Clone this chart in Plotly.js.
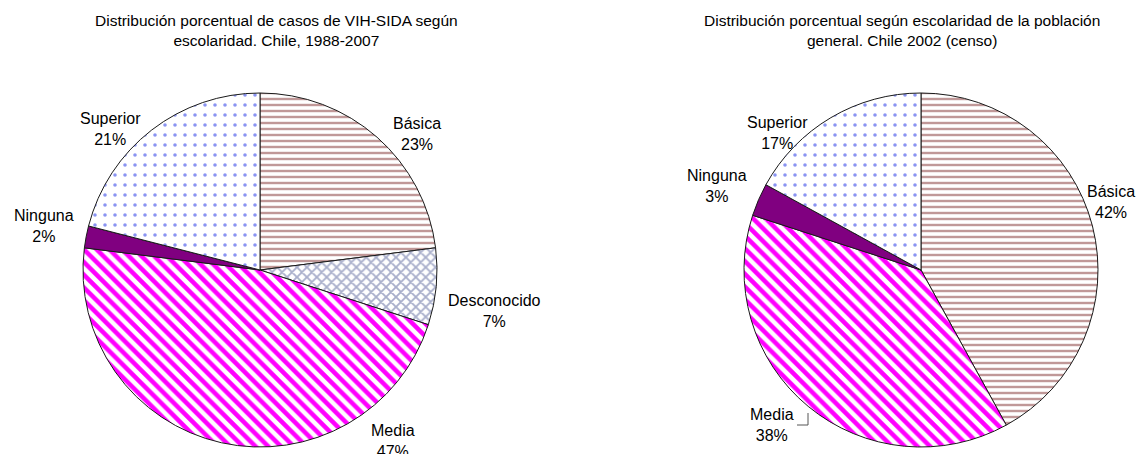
<!DOCTYPE html>
<html>
<head>
<meta charset="utf-8">
<script src="https://cdn.plot.ly/plotly-3.0.1.min.js"></script>
<style>
html,body{margin:0;padding:0;background:#fff;}
#chart{width:1139px;height:454px;}
</style>
</head>
<body>
<div id="chart"></div>
<script>
// ---- Data ----
const leftTitle = 'Distribución porcentual de casos de VIH-SIDA según<br>escolaridad. Chile, 1988-2007';
const leftLabels = ['Básica', 'Desconocido', 'Media', 'Ninguna', 'Superior'];
const leftValues = [23, 7, 47, 2, 21];

const rightTitle = 'Distribución porcentual según escolaridad de la población<br>general. Chile 2002 (censo)';
const rightLabels = ['Básica', 'Media', 'Ninguna', 'Superior'];
const rightValues = [42, 38, 3, 17];

// ---- Styles per category ----
const styles = {
  'Básica':      {shape: '-',  fg: '#c09898', bg: '#ffffff', size: 6,  sol: 0.4,  color: '#ffffff'},
  'Desconocido': {shape: 'x',  fg: '#a8aecb', bg: '#ffffff', size: 7,  sol: 0.45, color: '#ffffff'},
  'Media':       {shape: '\\', fg: '#ff00ff', bg: '#ffffff', size: 9,  sol: 0.5,  color: '#ffffff'},
  'Ninguna':     {shape: '',   fg: '#800080', bg: '#800080', size: 8,  sol: 0.3,  color: '#800080'},
  'Superior':    {shape: '.',  fg: '#8a94f2', bg: '#ffffff', size: 10, sol: 0.1,  color: '#ffffff'}
};

const W = 1139, H = 454;
const px = v => v / W;
const py = v => 1 - v / H;

function pieTrace(labels, values, cx, cy, r) {
  return {
    type: 'pie',
    labels: labels,
    values: values,
    sort: false,
    direction: 'clockwise',
    rotation: 0,
    textinfo: 'none',
    hoverinfo: 'none',
    showlegend: false,
    domain: {x: [px(cx - r), px(cx + r)], y: [py(cy + r), py(cy - r)]},
    marker: {
      colors: labels.map(l => styles[l].color),
      line: {color: '#1a1a1a', width: 1},
      pattern: {
        shape: labels.map(l => styles[l].shape),
        fgcolor: labels.map(l => styles[l].fg),
        bgcolor: labels.map(l => styles[l].bg),
        size: labels.map(l => styles[l].size),
        solidity: labels.map(l => styles[l].sol),
        fillmode: 'replace'
      }
    }
  };
}

// label positions (pixel centers)
const leftLabelPos = {
  'Básica': [417, 134], 'Desconocido': [494, 311], 'Media': [393, 441],
  'Ninguna': [44, 226], 'Superior': [110, 129]
};
const rightLabelPos = {
  'Básica': [1111, 202], 'Media': [772, 425], 'Ninguna': [717, 186], 'Superior': [777, 133]
};

const labelFont = {family: 'Liberation Sans, Arial, sans-serif', size: 16, color: '#000000'};
const titleFont = {family: 'Liberation Sans, Arial, sans-serif', size: 15.5, color: '#000000'};

function labelAnns(labels, values, pos) {
  return labels.map((l, i) => ({
    xref: 'paper', yref: 'paper',
    x: px(pos[l][0]), y: py(pos[l][1]),
    xanchor: 'center', yanchor: 'middle',
    text: l + '<br>' + values[i] + '%',
    showarrow: false, font: labelFont, align: 'center'
  }));
}

const annotations = [
  {xref: 'paper', yref: 'paper', x: px(276), y: py(10), xanchor: 'center', yanchor: 'top',
   text: leftTitle, showarrow: false, font: titleFont, align: 'center'},
  {xref: 'paper', yref: 'paper', x: px(902), y: py(10), xanchor: 'center', yanchor: 'top',
   text: rightTitle, showarrow: false, font: titleFont, align: 'center'}
].concat(labelAnns(leftLabels, leftValues, leftLabelPos))
 .concat(labelAnns(rightLabels, rightValues, rightLabelPos));

const layout = {
  width: W, height: H,
  margin: {l: 0, r: 0, t: 0, b: 0},
  paper_bgcolor: '#ffffff',
  plot_bgcolor: '#ffffff',
  showlegend: false,
  annotations: annotations,
  shapes: [
    {type: 'path', xref: 'paper', yref: 'paper',
     path: 'M ' + px(797) + ' ' + py(425) + ' L ' + px(808) + ' ' + py(425) + ' L ' + px(808) + ' ' + py(413),
     line: {color: '#555555', width: 1}}
  ]
};

Plotly.newPlot('chart', [
  pieTrace(leftLabels, leftValues, 260, 270, 177),
  pieTrace(rightLabels, rightValues, 921, 270, 177)
], layout, {displayModeBar: false, staticPlot: true});
</script>
</body>
</html>
